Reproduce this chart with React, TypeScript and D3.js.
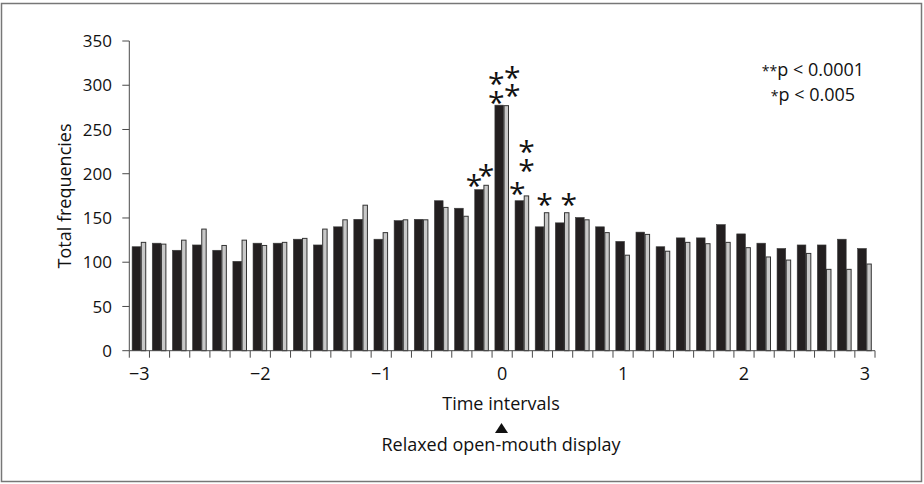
import React from 'react';
import * as d3 from 'd3';

// Total frequencies per 10-s interval (37 intervals from -3 to +3)
const blackValues = [117.5, 121.5, 113.5, 119.5, 113.5, 101, 121.5, 121.5, 126, 119.5, 140, 148.5, 126, 147, 148.5, 169.5, 161, 182, 277.5, 169.5, 140, 144.5, 150.5, 140, 123.5, 134, 117.5, 127.5, 127.5, 142.5, 132, 121.5, 115.5, 119.5, 119.5, 126, 115.5];
const grayValues = [123, 121, 125.5, 138, 119.5, 125.5, 119.5, 123, 127.5, 138, 148.5, 165, 134, 148.5, 148.5, 162.5, 152.5, 187.5, 277.5, 175.5, 156.5, 156.5, 148.5, 134, 108.5, 132, 113, 123, 121.5, 123, 117, 106.5, 103, 110.5, 92.5, 92.5, 98.5];
const xTickLabels = ['\u22123', '\u22122', '\u22121', '0', '1', '2', '3'];
const xTickIndices = [0, 6, 12, 18, 24, 30, 36];
const yTicks = [0, 50, 100, 150, 200, 250, 300, 350];
// significance asterisk columns: interval index, series, levels (in frequency units)
const starIndex = [17, 17, 18, 18, 19, 19, 20, 21];
const starSeries = ['black', 'gray', 'black', 'gray', 'black', 'gray', 'gray', 'gray'];
const starLevels = [[193.7], [205.3], [287.8, 308.9], [295.4, 315.7], [185.3], [211, 232.4], [172.2], [172.9]];
const starShift = [-5, 0, -3, 6, -2, 0, -2, 2];
const legendLines = [['**', 'p < 0.0001'], ['*', 'p < 0.005']];

const FONT = "'Open Sans', 'Noto Sans', sans-serif";

export default function App() {
  const W = 924, H = 484;
  const left = 129.3, right = 875, bottom = 350.7, top = 41;
  const idx = blackValues.map((_, i) => i);
  const x = d3.scaleBand<number>().domain(idx).range([left, right]).paddingInner(0).paddingOuter(0);
  const y = d3.scaleLinear().domain([0, 350]).range([bottom, top]);
  const bw = x.bandwidth();
  const bOff = bw * 0.14, bW = bw * 0.43;
  const gOff = bOff + bW, gW = bw * 0.27;
  const boundaries = d3.range(idx.length + 1).map(i => left + i * bw);
  const axisColor = '#4a4a4a';

  const starX = (i: number) => {
    const x0 = x(starIndex[i]) as number;
    const c = starSeries[i] === 'black' ? x0 + bOff + bW / 2 : x0 + gOff + gW / 2;
    return c + starShift[i];
  };

  return (
    <svg width={W} height={H} style={{ position: 'absolute', left: 0, top: 0, background: '#fff' }} fontFamily={FONT}>
      <rect x={1.5} y={3.5} width={920} height={478} fill="#fff" stroke="#777" strokeWidth={1.5} />
      {/* bars */}
      {idx.map(i => {
        const x0 = x(i) as number;
        return (
          <g key={i}>
            <rect x={x0 + bOff} y={y(blackValues[i])} width={bW} height={bottom - y(blackValues[i])} fill="#231f20" stroke="#3a3a3a" strokeWidth={0.6} />
            <rect x={x0 + gOff + 0.5} y={y(grayValues[i]) + 0.5} width={gW - 1} height={bottom - y(grayValues[i]) - 0.5} fill="#c8c8c8" stroke="#333" strokeWidth={1} />
          </g>
        );
      })}
      {/* y axis */}
      <line x1={left} x2={left} y1={bottom} y2={top} stroke={axisColor} strokeWidth={1} />
      {yTicks.map(t => (
        <g key={t}>
          <line x1={left - 7} x2={left} y1={y(t)} y2={y(t)} stroke={axisColor} strokeWidth={1} />
          <text x={112} y={y(t)} dy="0.36em" textAnchor="end" fontSize={17} fill="#111">{t}</text>
        </g>
      ))}
      {/* x axis */}
      <line x1={left} x2={right} y1={bottom} y2={bottom} stroke={axisColor} strokeWidth={1} />
      {boundaries.map((b, i) => (
        <line key={i} x1={b} x2={b} y1={bottom} y2={bottom + 7} stroke={axisColor} strokeWidth={1} />
      ))}
      {xTickIndices.map((ti, k) => (
        <text key={k} x={(x(ti) as number) + bw / 2} y={380} textAnchor="middle" fontSize={18} fill="#111">{xTickLabels[k]}</text>
      ))}
      {/* stars */}
      {starIndex.map((_, i) => (
        <text key={i} textAnchor="middle" fontSize={30} fill="#111">
          {starLevels[i].map((lv, j) => (
            <tspan key={j} x={starX(i)} y={y(lv) + 17}>*</tspan>
          ))}
        </text>
      ))}
      {/* legend */}
      {legendLines.map((l, i) => (
        <text key={i} x={813} y={76 + i * 25} textAnchor="middle" fontSize={18} fill="#111">
          <tspan fontSize={14}>{l[0]}</tspan>{l[1]}
        </text>
      ))}
      {/* axis titles */}
      <text transform={`translate(65, 196) rotate(-90)`} textAnchor="middle" dy="0.36em" fontSize={18} fill="#111">Total frequencies</text>
      <text x={501} y={410} textAnchor="middle" fontSize={18} fill="#111">Time intervals</text>
      <path d={d3.line()([[495, 433], [508, 433], [501.5, 423]]) + 'Z'} fill="#111" />
      <text x={501} y={450.5} textAnchor="middle" fontSize={18} fill="#111">Relaxed open-mouth display</text>
    </svg>
  );
}
